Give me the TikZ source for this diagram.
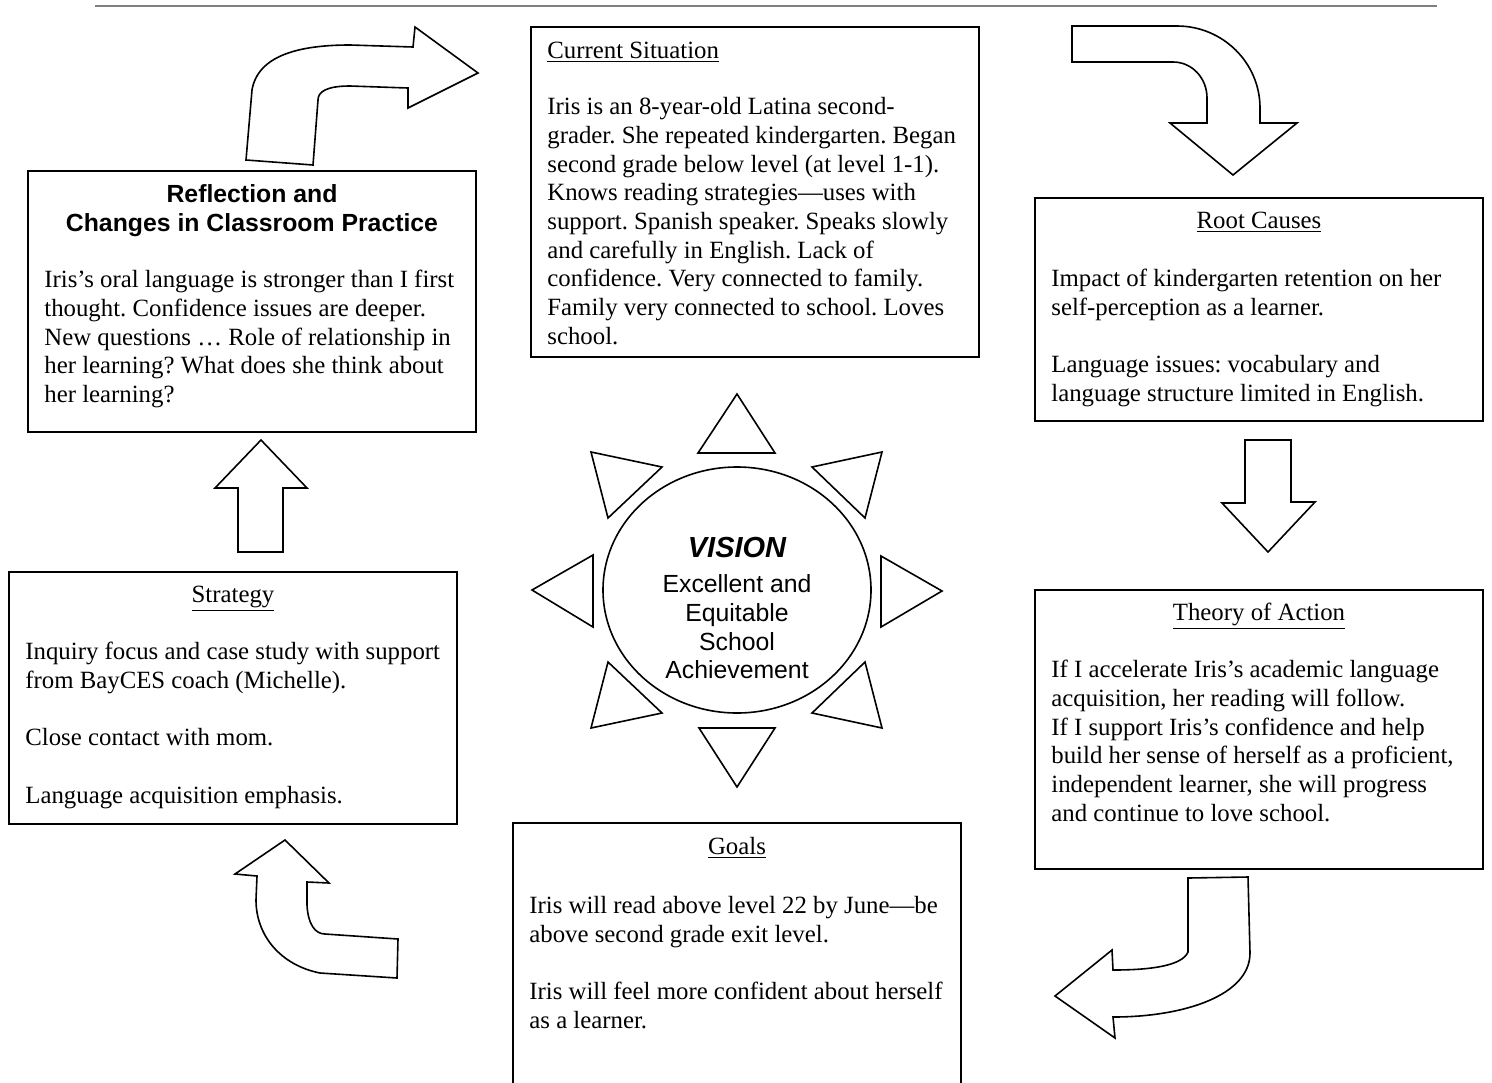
\documentclass[tikz,border=0pt]{standalone}
\usepackage{fontspec}
\setmainfont{Liberation Serif}
\setsansfont{Liberation Sans}
\frenchspacing
\newcommand{\boxfont}{\fontsize{12.4}{14.35}\selectfont}
\tikzset{
  infobox/.style={draw, line width=0.9pt},
  boxtitle/.style={anchor=base, inner sep=0pt, font=\boxfont},
  boxbody/.style={anchor=north west, inner sep=0pt, align=left, font=\boxfont},
  blockarrow/.style={draw, line width=0.8pt, fill=white, line join=miter},
  ray/.style={draw, line width=0.8pt}
}
\begin{document}
\begin{tikzpicture}[x=0.5pt,y=-0.5pt]
            \useasboundingbox (0,0) rectangle (1492,1082);
            \draw [gray, line width=1pt] (95,6) -- (1437,6);
            % boxes
            \draw [infobox] (531,27) rectangle (979,357);
            \draw [infobox] (28,171) rectangle (476,432);
            \draw [infobox] (1035,198) rectangle (1483,421);
            \draw [infobox] (9,572) rectangle (457,824);
            \draw [infobox] (1035,590) rectangle (1483,869);
            \draw [infobox] (513,1100) -- (513,823) -- (961,823) -- (961,1100);
            % current situation
            \node (curtitle) [boxtitle, anchor=base west] at (547,58) {\underline{Current Situation}};
            \node (curbody) [boxbody] at (547,97) {Iris is an 8-year-old Latina second-\\
                grader. She repeated kindergarten. Began\\
                second grade below level (at level 1-1).\\
                Knows reading strategies—uses with\\
                support. Spanish speaker. Speaks slowly\\
                and carefully in English. Lack of\\
                confidence. Very connected to family.\\
                Family very connected to school. Loves\\
                school.};
            % reflection
            \node (refltitle) [anchor=north, inner sep=0pt, align=center, font=\sffamily\bfseries\fontsize{12.4}{14.35}\selectfont] at (252,184) {Reflection and\\Changes in Classroom Practice};
            \node (reflbody) [boxbody] at (44,270) {Iris’s oral language is stronger than I first\\
                thought. Confidence issues are deeper.\\
                New questions … Role of relationship in\\
                her learning? What does she think about\\
                her learning?};
            % root causes
            \node (roottitle) [boxtitle] at (1259,228) {\underline{Root Causes}};
            \node (rootbody) [boxbody] at (1051,269) {Impact of kindergarten retention on her\\
                self-perception as a learner.\\[14.35pt]
                Language issues: vocabulary and\\
                language structure limited in English.};
            % theory of action
            \node (theorytitle) [boxtitle] at (1259,620) {\underline{Theory of Action}};
            \node (theorybody) [boxbody] at (1051,660) {If I accelerate Iris’s academic language\\
                acquisition, her reading will follow.\\
                If I support Iris’s confidence and help\\
                build her sense of herself as a proficient,\\
                independent learner, she will progress\\
                and continue to love school.};
            % strategy
            \node (strattitle) [boxtitle] at (233,602) {\underline{Strategy}};
            \node (stratbody) [boxbody] at (25,642) {Inquiry focus and case study with support\\
                from BayCES coach (Michelle).\\[14.35pt]
                Close contact with mom.\\[14.35pt]
                Language acquisition emphasis.};
            % goals
            \node (goaltitle) [boxtitle] at (737,854) {\underline{Goals}};
            \node (goalbody) [boxbody] at (529,896) {Iris will read above level 22 by June—be\\
                above second grade exit level.\\[14.35pt]
                Iris will feel more confident about herself\\
                as a learner.};
            % vision sun
            \draw [line width=0.8pt] (737,590) ellipse [x radius=134, y radius=123];
            \node (vision) [inner sep=0pt, align=center, font=\sffamily\fontsize{12.4}{14.35}\selectfont] at (737,608) {{\bfseries\itshape\fontsize{14.5}{17}\selectfont VISION}\\[3.5pt]
                Excellent and\\Equitable\\School\\Achievement};
            \draw [ray] (737,394) -- (775,453) -- (698,453) -- cycle;
            \draw [ray] (737,787) -- (775,728) -- (699,728) -- cycle;
            \draw [ray] (532,590) -- (593,555) -- (593,627) -- cycle;
            \draw [ray] (942,591) -- (881,556) -- (881,627) -- cycle;
            \draw [ray] (591,452) -- (662,467) -- (608,518) -- cycle;
            \draw [ray] (882,452) -- (812,467) -- (865,518) -- cycle;
            \draw [ray] (608,662) -- (662,713) -- (591,728) -- cycle;
            \draw [ray] (865,662) -- (812,713) -- (882,728) -- cycle;
            % curved arrows
            \draw [blockarrow] (246,160) -- (252,90) .. controls (258,55) and (300,45) .. (350,45)
                -- (413,47) -- (415,27) -- (478,73) -- (408,108) -- (408,88) -- (350,86)
                .. controls (326,86) and (318,92) .. (318,100) -- (313,165) -- cycle;
            \draw [blockarrow] (1072,26) -- (1177,26) .. controls (1223,26) and (1260,63) .. (1260,108)
                -- (1260,123) -- (1297,123) -- (1233,175) -- (1170,123) -- (1207,123) -- (1207,98)
                .. controls (1207,78) and (1192,62) .. (1173,62) -- (1072,62) -- cycle;
            \draw [blockarrow] (1188,878) -- (1248,877) -- (1250,953) .. controls (1250,995) and (1185,1017) .. (1113,1017)
                -- (1115,1038) -- (1055,996) -- (1112,950) -- (1113,970)
                .. controls (1150,970) and (1182,966) .. (1188,952) -- cycle;
            \draw [blockarrow] (285,840) -- (329,883) -- (307,882) -- (307,905)
                .. controls (308,924) and (315,934) .. (325,934) -- (398,939) -- (397,978) -- (320,973)
                .. controls (280,965) and (256,935) .. (256,900) -- (257,876) -- (235,874) -- cycle;
            % straight arrows
            \draw [blockarrow] (261,440) -- (307,488) -- (283,488) -- (283,552) -- (238,552) -- (238,488) -- (215,488) -- cycle;
            \draw [blockarrow] (1245,440) -- (1291,440) -- (1291,502) -- (1315,502) -- (1268,552) -- (1222,503) -- (1245,503) -- cycle;
\end{tikzpicture}
\end{document}
